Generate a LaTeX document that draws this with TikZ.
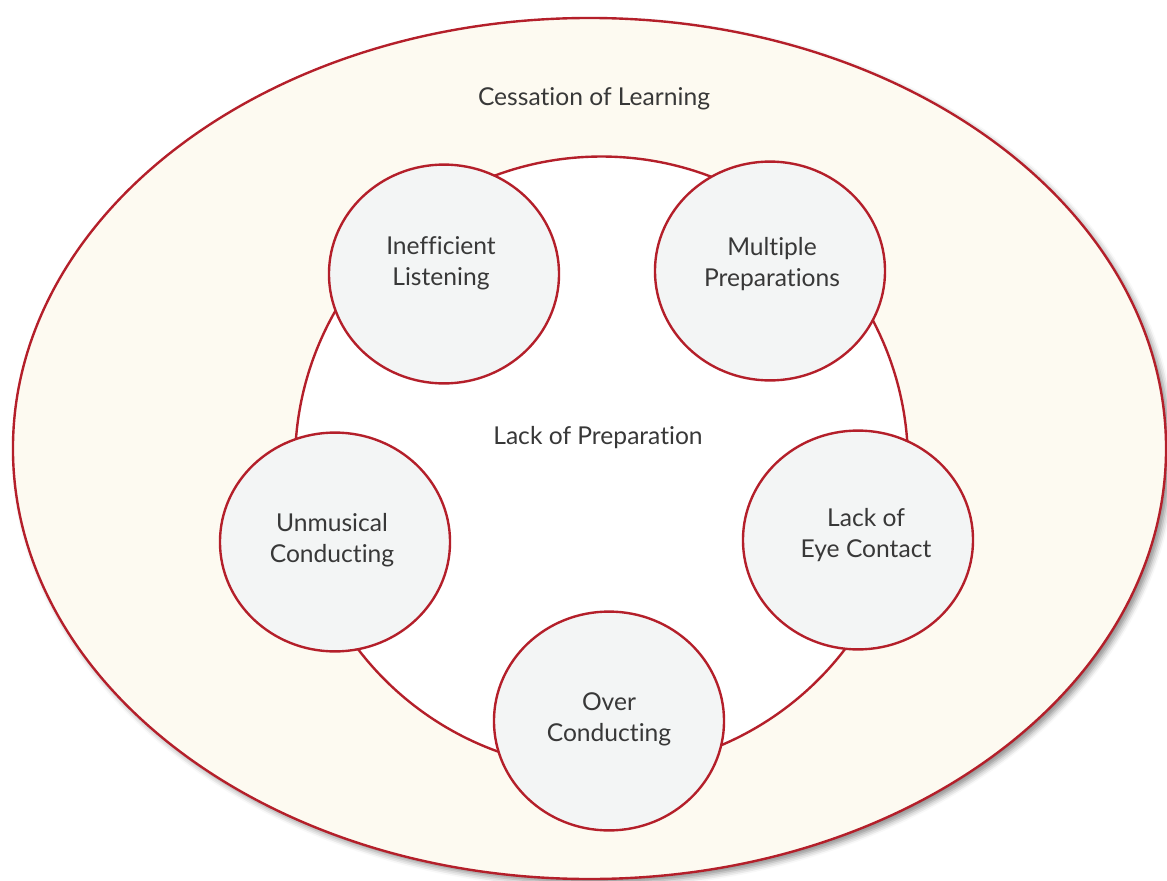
\documentclass[tikz,border=0pt]{standalone}
\usepackage{fontspec}
\setmainfont{Lato}[Ligatures=NoCommon]
\usetikzlibrary{shapes.geometric,shadows.blur,positioning}
\definecolor{rim}{HTML}{B41F2A}
\definecolor{cream}{HTML}{FDFAF1}
\definecolor{pale}{HTML}{F3F5F5}
\definecolor{ink}{HTML}{383838}
\tikzset{
    rimline/.style={draw=rim, line width=1.7pt},
    bubble/.style={rimline, ellipse, fill=pale, inner sep=0pt,
        minimum width=5.75cm, minimum height=5.47cm},
    lbl/.style={text=ink, align=center, font=\fontsize{17.5}{22}\selectfont}
}

\begin{document}
\begin{tikzpicture}[x=0.025cm, y=-0.025cm]
    \useasboundingbox (0, 0) rectangle (1167, 881);
    % outer field and inner disc
    \node[rimline, ellipse, fill=cream, inner sep=0pt,
        minimum width=28.82cm, minimum height=21.52cm,
        blur shadow={shadow xshift=3pt, shadow yshift=-3pt,
            shadow blur radius=4pt, shadow opacity=45}] (learning) at (589.5, 448.5) {};
    \node[rimline, circle, fill=white, inner sep=0pt,
        minimum size=15.32cm] (prep) at (601.5, 463) {};
    \node[lbl] (learninglbl) at (594, 99) {Cessation of Learning};
    \node[lbl] (preplbl) at (598, 438) {Lack of Preparation};
    % the five causes
    \node[bubble] (listen) at (444, 274) {};
    \node[bubble] (multi) at (770, 271) {};
    \node[bubble] (unmus) at (335, 542) {};
    \node[bubble] (eye) at (858, 540) {};
    \node[bubble] (over) at (609, 721) {};
    \node[lbl] (listenlbl) at (441, 263) {Inefficient\\Listening};
    \node[lbl] (multilbl) at (772, 264) {Multiple\\Preparations};
    \node[lbl] (unmuslbl) at (332, 540) {Unmusical\\Conducting};
    \node[lbl] (eyelbl) at (866, 535) {Lack of\\Eye Contact};
    \node[lbl] (overlbl) at (609, 719) {Over\\Conducting};
\end{tikzpicture}
\end{document}
